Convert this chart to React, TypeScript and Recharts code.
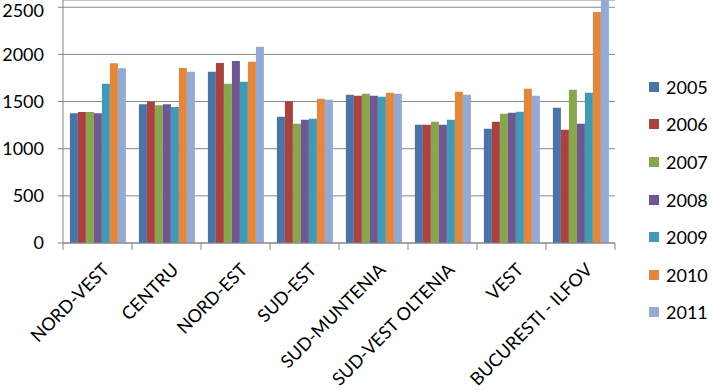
import { BarChart, Bar, XAxis, YAxis, CartesianGrid, Legend } from "recharts";

const REGIONS = [
  "NORD-VEST",
  "CENTRU",
  "NORD-EST",
  "SUD-EST",
  "SUD-MUNTENIA",
  "SUD-VEST OLTENIA",
  "VEST",
  "BUCURESTI - ILFOV",
];

const YEARS = ["2005", "2006", "2007", "2008", "2009", "2010", "2011"];

const Y2005 = [1377, 1472, 1815, 1338, 1571, 1254, 1211, 1434];
const Y2006 = [1388, 1501, 1910, 1504, 1561, 1254, 1285, 1201];
const Y2007 = [1388, 1462, 1688, 1264, 1582, 1285, 1370, 1624];
const Y2008 = [1377, 1472, 1931, 1306, 1561, 1254, 1381, 1264];
const Y2009 = [1688, 1441, 1709, 1317, 1550, 1306, 1391, 1593];
const Y2010 = [1907, 1857, 1921, 1529, 1593, 1603, 1635, 2451];
const Y2011 = [1854, 1815, 2080, 1518, 1582, 1571, 1561, 2620];

const SERIES = [Y2005, Y2006, Y2007, Y2008, Y2009, Y2010, Y2011];

const COLORS = ["#4a73a8", "#aa4340", "#89a54e", "#6f5792", "#4199b3", "#e2873d", "#94aad3"];

const Y_TICKS = [0, 500, 1000, 1500, 2000, 2500];

const data = REGIONS.map((name, i) => {
  const row: Record<string, any> = { name };
  YEARS.forEach((y, s) => {
    row[y] = SERIES[s][i];
  });
  return row;
});

const W = 712;
const H = 390;
const LEFT = 63;
const RIGHT = 97;
const BAND = (W - LEFT - RIGHT) / REGIONS.length;
const AXIS = "#868686";
const FONT = "Lato, 'Open Sans', sans-serif";

function CategoryTick(props: any) {
  const { x, y, payload, index } = props;
  const half = BAND / 2;
  return (
    <g>
      <line x1={x - half} y1={y} x2={x - half} y2={y + 7} stroke={AXIS} />
      {index === REGIONS.length - 1 && (
        <line x1={x + half} y1={y} x2={x + half} y2={y + 7} stroke={AXIS} />
      )}
      <text
        transform={`translate(${x + 13},${y + 28}) rotate(-45)`}
        textAnchor="end"
        fontSize={18}
        fontFamily={FONT}
        fill="#000"
      >
        {payload.value}
      </text>
    </g>
  );
}

function YearLegend() {
  return (
    <div style={{ fontFamily: FONT, fontSize: 18, color: "#000" }}>
      {YEARS.map((y, i) => (
        <div key={y} style={{ display: "flex", alignItems: "center", height: 37.6 }}>
          <span
            style={{
              display: "inline-block",
              width: 10,
              height: 10,
              background: COLORS[i],
              marginRight: 7,
            }}
          />
          {y}
        </div>
      ))}
    </div>
  );
}

export default function App() {
  return (
    <div style={{ position: "absolute", left: 0, top: 0, width: W, height: H, background: "#fff" }}>
      <BarChart
        width={W}
        height={H}
        data={data}
        margin={{ top: 0, right: RIGHT, bottom: 0, left: 0 }}
        barCategoryGap="10%"
        barGap={0}
      >
        <CartesianGrid vertical={false} stroke={AXIS} strokeWidth={1} />
        <XAxis
          dataKey="name"
          height={147}
          interval={0}
          tickSize={0}
          tickMargin={0}
          axisLine={{ stroke: AXIS }}
          tickLine={false}
          tick={<CategoryTick />}
        />
        <YAxis
          width={LEFT}
          domain={[0, 2577]}
          ticks={Y_TICKS}
          allowDataOverflow
          axisLine={{ stroke: AXIS }}
          tickLine={{ stroke: AXIS }}
          tickSize={5}
          tickMargin={14}
          tick={{ fontSize: 18, fontFamily: FONT, fill: "#000" }}
        />
        <Legend
          layout="vertical"
          align="center"
          verticalAlign="middle"
          wrapperStyle={{ left: 649, top: 68, width: 63 }}
          content={<YearLegend />}
        />
        {YEARS.map((y, i) => (
          <Bar key={y} dataKey={y} fill={COLORS[i]} isAnimationActive={false} />
        ))}
      </BarChart>
    </div>
  );
}
